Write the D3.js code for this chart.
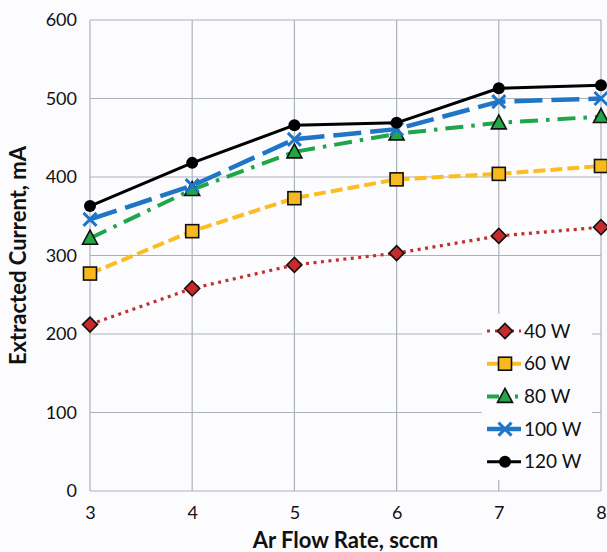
<!DOCTYPE html>
<html>
<head>
<meta charset="utf-8">
<script src="https://cdn.jsdelivr.net/npm/d3@7"></script>
<style>
  html, body { margin: 0; padding: 0; background: #fcfcfe; }
  svg { display: block; }
  text { font-family: Lato, "Open Sans", sans-serif; fill: #111; }
</style>
</head>
<body>
<svg id="chart" width="607" height="552"></svg>
<script>
// Ar flow rate (sccm)
const flowRates = [3, 4, 5, 6, 7, 8];
// Extracted current (mA) per RF power
const current40W  = [212, 258, 288, 303, 325, 336];
const current60W  = [277, 331, 373, 397, 404, 414];
const current80W  = [322, 384, 432, 455, 469, 477];
const current100W = [346, 389, 448, 461, 496, 500];
const current120W = [363, 418, 466, 469, 513, 517];
const seriesNames = ["40 W", "60 W", "80 W", "100 W", "120 W"];
const yTicks = [0, 100, 200, 300, 400, 500, 600];

const series = [
  { name: seriesNames[0], values: current40W,  color: "#c0302e", fill: "#c62a2a", dash: "3 4.5",      width: 3.2, marker: "diamond" },
  { name: seriesNames[1], values: current60W,  color: "#fbbd22", fill: "#f7b91f", dash: "12 5",       width: 4,   marker: "square" },
  { name: seriesNames[2], values: current80W,  color: "#1fa64a", fill: "#23a548", dash: "18 8 3.5 8", width: 4,   marker: "triangle" },
  { name: seriesNames[3], values: current100W, color: "#1f76c6", fill: "#1f76c6", dash: "28 9",       width: 4.5, marker: "cross" },
  { name: seriesNames[4], values: current120W, color: "#000000", fill: "#000000", dash: null,         width: 3,   marker: "circle" }
];

const W = 607, H = 552;
const margin = { top: 20, right: 6, bottom: 61, left: 90 };
const svg = d3.select("#chart");

const x = d3.scaleLinear().domain([3, 8]).range([margin.left, W - margin.right]);
const y = d3.scaleLinear().domain([0, 600]).range([H - margin.bottom, margin.top]);

// plot background
svg.append("rect")
  .attr("x", margin.left).attr("y", margin.top)
  .attr("width", x(8) - x(3)).attr("height", y(0) - y(600))
  .attr("fill", "#fcfcfe");

// gridlines
const grid = svg.append("g").attr("stroke", "#aab3bc").attr("stroke-width", 1.2);
grid.selectAll("line.h").data(yTicks).join("line")
  .attr("class", "h")
  .attr("x1", x(3)).attr("x2", x(8))
  .attr("y1", d => y(d)).attr("y2", d => y(d));
grid.selectAll("line.v").data(flowRates).join("line")
  .attr("class", "v")
  .attr("x1", d => x(d)).attr("x2", d => x(d))
  .attr("y1", y(0)).attr("y2", y(600));

// axes (tick labels only, frame drawn by the grid)
const xAxis = svg.append("g")
  .attr("transform", `translate(0,${y(0)})`)
  .call(d3.axisBottom(x).tickValues(flowRates).tickSize(0).tickPadding(15).tickFormat(d3.format("d")));
xAxis.select(".domain").remove();
xAxis.selectAll("text").attr("font-size", 18).style("font-family", "Lato, sans-serif").attr("fill", "#111");

const yAxis = svg.append("g")
  .attr("transform", `translate(${x(3)},0)`)
  .call(d3.axisLeft(y).tickValues(yTicks).tickSize(0).tickPadding(13).tickFormat(d3.format("d")));
yAxis.select(".domain").remove();
yAxis.selectAll("text").attr("font-size", 18).style("font-family", "Lato, sans-serif").attr("fill", "#111");

// axis titles
svg.append("text")
  .attr("x", (x(3) + x(8)) / 2).attr("y", 548)
  .attr("text-anchor", "middle")
  .attr("font-size", 22).attr("font-weight", "bold")
  .text("Ar Flow Rate, sccm");

svg.append("text")
  .attr("transform", `translate(26,${(y(0) + y(600)) / 2}) rotate(-90)`)
  .attr("text-anchor", "middle")
  .attr("font-size", 22).attr("font-weight", "bold")
  .text("Extracted Current, mA");

// marker drawing
function drawMarker(g, type, s) {
  if (type === "diamond") {
    g.append("path").attr("d", "M0,-7.5L7.5,0L0,7.5L-7.5,0Z")
      .attr("fill", s.fill).attr("stroke", "#111").attr("stroke-width", 1.6);
  } else if (type === "square") {
    g.append("rect").attr("x", -6.5).attr("y", -6.5).attr("width", 13).attr("height", 13)
      .attr("fill", s.fill).attr("stroke", "#111").attr("stroke-width", 1.6);
  } else if (type === "triangle") {
    g.append("path").attr("d", "M0,-8L7.5,6L-7.5,6Z")
      .attr("fill", s.fill).attr("stroke", "#111").attr("stroke-width", 1.6);
  } else if (type === "cross") {
    g.append("path").attr("d", "M-6.5,-6.5L6.5,6.5M-6.5,6.5L6.5,-6.5")
      .attr("stroke", s.color).attr("stroke-width", 3).attr("fill", "none");
  } else if (type === "circle") {
    g.append("circle").attr("r", 6).attr("fill", "#000");
  }
}

const line = d3.line().x(d => x(d[0])).y(d => y(d[1]));

series.forEach(s => {
  const pts = flowRates.map((f, i) => [f, s.values[i]]);
  svg.append("path")
    .datum(pts)
    .attr("d", line)
    .attr("fill", "none")
    .attr("stroke", s.color)
    .attr("stroke-width", s.width)
    .attr("stroke-dasharray", s.dash)
    .attr("stroke-linejoin", "round");
  pts.forEach(p => {
    const g = svg.append("g").attr("transform", `translate(${x(p[0])},${y(p[1])})`);
    drawMarker(g, s.marker, s);
  });
});

// legend
const legend = svg.append("g");
legend.append("rect")
  .attr("x", 482).attr("y", 314).attr("width", 110).attr("height", 166)
  .attr("fill", "#fcfcfe");
series.forEach((s, i) => {
  const cy = 331 + i * 32.7;
  const g = legend.append("g").attr("transform", `translate(0,${cy})`);
  g.append("line")
    .attr("x1", 487).attr("x2", 521).attr("y1", 0).attr("y2", 0)
    .attr("stroke", s.color).attr("stroke-width", s.width)
    .attr("stroke-dasharray", s.marker === "diamond" ? "3 5" : s.marker === "triangle" ? "12 16 3 4" : null);
  const m = g.append("g").attr("transform", "translate(505,0)");
  drawMarker(m, s.marker, s);
  g.append("text")
    .attr("x", 524).attr("y", 6.5)
    .attr("font-size", 19)
    .text(s.name);
});
</script>
</body>
</html>
